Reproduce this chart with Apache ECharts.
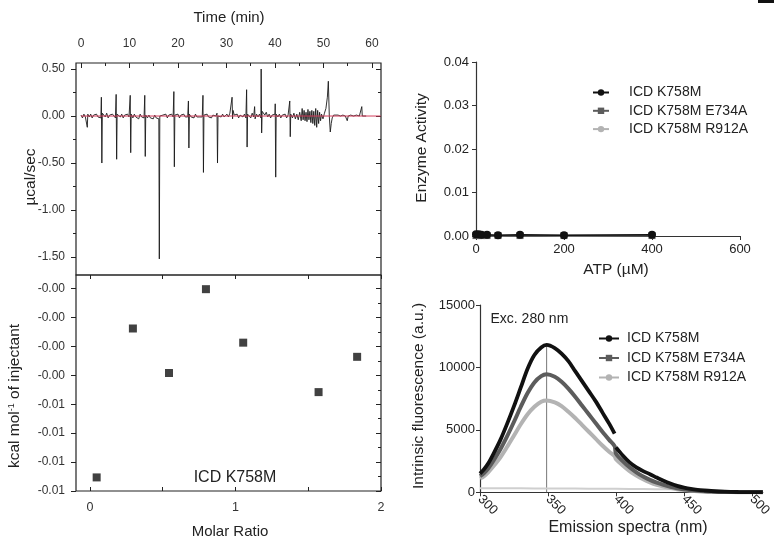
<!DOCTYPE html>
<html><head><meta charset="utf-8">
<script src="https://cdn.jsdelivr.net/npm/echarts@6/dist/echarts.min.js"></script>
<style>html,body{margin:0;padding:0;background:#fff}#c{width:774px;height:541px}</style>
</head><body><div id="c"></div>
<script>
// ================= DATA =================
// ITC raw thermogram: [time (min), power (ucal/sec)]
const itcTrace = [
[0,0.01],[0.3,-0.02],[0.6,0.02],[0.9,-0.01],[1.2,0.0],[1.3,-0.12],[1.4,0.02],[1.7,-0.01],[2.0,0.02],[2.3,-0.02],[2.6,0.01],[2.9,-0.01],[3.2,0.02],[3.5,-0.01],[3.8,0.01],[4.1,-0.02],
[4.2,0.20],[4.3,-0.50],[4.4,0.03],
[4.7,0.02],[5.0,-0.01],[5.3,0.03],[5.6,-0.02],[5.9,0.01],[6.2,-0.01],[6.5,0.02],[6.8,0.0],[7.1,-0.02],
[7.25,0.23],[7.35,-0.46],[7.45,0.02],
[7.8,0.01],[8.1,-0.01],[8.4,0.02],[8.7,-0.02],[9.0,0.01],[9.3,-0.01],[9.6,0.02],[9.9,-0.01],
[10.15,0.22],[10.25,-0.39],[10.35,0.02],
[10.7,-0.02],[11.0,0.02],[11.3,-0.01],[11.6,0.01],[11.9,-0.03],[12.2,0.02],[12.5,-0.01],[12.8,0.01],[13.0,-0.02],
[13.15,0.22],[13.25,-0.43],[13.35,0.01],
[13.7,-0.02],[14.0,0.01],[14.3,-0.02],[14.6,0.0],[14.9,-0.03],[15.2,0.01],[15.5,-0.02],[15.8,0.0],
[16.05,-0.03],[16.15,-1.52],[16.25,0.0],
[16.6,-0.02],[16.9,0.01],[17.2,-0.01],[17.5,0.02],[17.8,-0.02],[18.1,0.01],[18.4,-0.01],[18.7,0.02],[19.0,-0.01],
[19.15,0.26],[19.25,-0.54],[19.35,0.01],
[19.7,-0.01],[20.0,0.02],[20.3,-0.02],[20.6,0.01],[20.9,-0.01],[21.2,0.02],[21.5,-0.01],[21.8,0.01],[22.0,-0.01],
[22.15,0.16],[22.25,-0.34],[22.35,0.02],
[22.7,-0.01],[23.0,0.01],[23.3,-0.02],[23.6,0.02],[23.9,-0.01],[24.2,0.01],[24.5,-0.01],[24.8,0.01],[25.0,-0.01],
[25.15,0.22],[25.25,-0.60],[25.35,0.01],
[25.7,-0.01],[26.0,0.02],[26.3,-0.01],[26.6,0.01],[26.9,-0.02],[27.2,0.01],[27.5,-0.01],[27.8,0.0],
[28.05,0.03],[28.15,-0.50],[28.25,0.0],
[28.6,0.01],[28.9,-0.01],[29.2,0.02],[29.5,-0.01],[29.8,0.01],[30.1,0.02],[30.4,-0.01],[30.7,0.03],[31.0,0.01],
[31.15,0.20],[31.25,-0.03],[31.35,0.06],[31.6,0.01],
[31.9,-0.01],[32.2,0.02],[32.5,-0.02],[32.8,0.01],[33.1,0.03],[33.4,-0.01],[33.7,0.02],[34.0,-0.02],
[34.15,0.28],[34.25,-0.33],[34.35,0.02],
[34.7,0.01],[35.0,-0.02],[35.3,0.03],[35.6,-0.01],[35.8,0.10],[35.9,-0.03],[36.2,0.02],[36.5,-0.01],[36.8,0.02],[37.1,-0.02],
[37.15,0.50],[37.25,-0.18],[37.35,0.05],
[37.6,0.03],[37.9,0.01],[38.2,0.04],[38.5,-0.01],[38.8,0.02],[39.1,-0.02],[39.4,0.01],[39.7,-0.01],[40.0,0.02],
[40.05,0.13],[40.15,-0.65],[40.25,0.02],
[40.6,-0.01],[40.9,0.02],[41.2,-0.02],[41.5,0.01],[41.8,-0.01],[42.1,0.02],[42.4,-0.02],[42.7,0.01],[43.0,-0.01],
[43.05,0.16],[43.15,-0.22],[43.25,0.02],
[43.6,-0.02],[43.9,0.03],[44.2,-0.03],[44.5,0.02],[44.8,-0.04],[45.1,0.04],[45.4,-0.05],[45.6,0.08],[45.8,-0.04],[46.0,0.06],[46.2,-0.05],[46.4,0.04],[46.6,-0.06],[46.8,0.07],[47.0,-0.04],[47.2,0.05],[47.4,-0.07],[47.6,0.06],[47.8,-0.08],[48.0,0.05],[48.2,-0.10],[48.4,0.08],[48.6,-0.12],[48.8,0.06],[49.0,-0.08],[49.2,0.04],[49.4,-0.05],[49.6,0.02],[49.9,-0.03],[50.2,0.03],[50.5,0.08],[50.8,0.20],[51.0,0.37],[51.2,0.0],[51.4,-0.17],[51.6,-0.08],[51.8,-0.02],[52.1,0.01],[52.5,-0.01],[53.0,0.01],[53.5,0.0],[54.0,0.01],[54.5,0.0],[54.9,-0.05],[55.1,0.0],[55.6,0.01],[56.2,0.0],[56.8,0.01],[57.4,0.0],[57.9,0.10],[58.0,0.0],[58.4,0.01],[58.8,0.0]
];
const itcBaselineTime = [0, 61.8];
const itcBaselineValue = [0, 0];
const timeTicks = [0, 10, 20, 30, 40, 50, 60];
const timeMinorTicks = [5, 15, 25, 35, 45, 55];
const powerTicks = [-1.5, -1.0, -0.5, 0.0, 0.5];
const powerTickLabels = ["-1.50", "-1.00", "-0.50", "0.00", "0.50"];
const powerMinorTicks = [-1.25, -0.75, -0.25, 0.25];

// Integrated heats
const molarRatio = [0.046, 0.295, 0.543, 0.797, 1.053, 1.571, 1.836];
const injectantHeat = [-0.00753, -0.00238, -0.00392, -0.00102, -0.00287, -0.00458, -0.00336];
const molarTicks = [0, 1, 2];
const molarTickMarks = [0, 0.5, 1, 1.5, 2];
const heatTicks = [-0.001, -0.002, -0.003, -0.004, -0.005, -0.006, -0.007, -0.008];
const heatTickLabels = ["-0.00", "-0.00", "-0.00", "-0.00", "-0.01", "-0.01", "-0.01", "-0.01"];
const heatMinorTicks = [-0.0015, -0.0025, -0.0035, -0.0045, -0.0055, -0.0065, -0.0075];

// Enzyme activity
const seriesNames = ["ICD K758M", "ICD K758M E734A", "ICD K758M R912A"];
const atp = [0, 6.25, 12.5, 25, 50, 100, 200, 400];
const activityK758M = [0.0004, 0.0004, 0.0003, 0.0003, 0.0002, 0.0003, 0.0002, 0.0003];
const activityE734A = [0.0001, 0.0001, 0.0001, 0.0001, 0.0001, 0.0001, 0.0001, 0.0001];
const activityR912A = [0.0001, 0.0001, 0.0000, 0.0001, 0.0000, 0.0001, 0.0000, 0.0001];

// Intrinsic fluorescence
const wavelength = [300,303,306,310,315,320,325,330,335,340,345,349,355,360,365,370,375,380,385,390,395,399,399.5,400,405,410,415,420,425,430,435,440,445,450,455,460,465,470,480,490,500,508];
const fluorK758M = [1500,1850,2300,3100,4200,5500,6900,8400,9900,11000,11600,11800,11550,11100,10500,9700,8900,8100,7300,6400,5500,4700,null,3600,2950,2400,2000,1700,1450,1180,920,700,520,380,270,195,145,105,52,26,12,5];
const fluorE734A = [1300,1550,1900,2550,3450,4500,5650,6850,7950,8800,9300,9450,9250,8850,8300,7650,6950,6250,5550,4850,4200,3700,null,3100,2500,2000,1600,1260,990,770,590,440,320,235,165,118,83,58,27,13,6,3];
const fluorR912A = [1100,1300,1600,2100,2800,3650,4550,5450,6250,6850,7250,7350,7200,6900,6450,5950,5400,4850,4300,3750,3250,2900,null,2650,2150,1700,1350,1050,800,600,455,340,250,180,128,88,63,44,21,10,5,2];
const bufferWavelength = [300, 320, 340, 360, 380, 400, 420, 440];
const bufferFluor = [330, 320, 310, 300, 290, 280, 260, 240];
const peakLineWavelength = [349, 349];
const peakLineFluor = [0, 11800];
const wavelengthTicks = [300, 350, 400, 450, 500];

// ================= CHART =================
const FONT = '"Liberation Sans", Arial, Helvetica, sans-serif';
const zip = (a, b) => a.map((v, i) => [v, b[i]]);
const noSplit = {show: false};
const tickLine = {color: '#222', width: 1};

function lookupLabel(vals, labels) {
  return function (v) {
    const i = vals.findIndex(t => Math.abs(t - v) < 1e-9);
    return i >= 0 ? labels[i] : '';
  };
}

const ITC_L = 76, ITC_W = 305;
const grids = [
  {left: ITC_L, top: 63, width: ITC_W, height: 212, show: true, borderColor: '#222', borderWidth: 1.2, backgroundColor: 'transparent'},
  {left: ITC_L, top: 275, width: ITC_W, height: 216, show: true, borderColor: '#222', borderWidth: 1.2, backgroundColor: 'transparent'},
  {left: 476, top: 62, width: 264, height: 174},
  {left: 480, top: 305, width: 286.6, height: 187.3},
  {left: ITC_L, top: 63, width: ITC_W, height: 212},
  {left: ITC_L, top: 275, width: ITC_W, height: 216}
];

const tMin = -1.03, tMax = 61.86;
const pMin = -1.691, pMax = 0.564;
const mMin = -0.096, mMax = 2.0;
const hMin = -0.008, hMax = -0.00053;

const itcLabel = {fontSize: 12, color: '#333', fontFamily: FONT};
const hiddenLine = {show: false, onZero: false};

const xAxes = [
  {gridIndex: 0, type: 'value', position: 'top', min: tMin, max: tMax, axisLine: hiddenLine, splitLine: noSplit,
   axisTick: {show: true, inside: true, length: 5, customValues: timeTicks, lineStyle: tickLine},
   axisLabel: Object.assign({customValues: timeTicks, margin: 13}, itcLabel)},
  {gridIndex: 4, type: 'value', position: 'top', min: tMin, max: tMax, axisLine: hiddenLine, splitLine: noSplit,
   axisTick: {show: true, inside: true, length: 3, customValues: timeMinorTicks, lineStyle: tickLine},
   axisLabel: {show: false}},
  {gridIndex: 1, type: 'value', position: 'bottom', min: mMin, max: mMax, axisLine: hiddenLine, splitLine: noSplit,
   axisTick: {show: true, inside: true, length: 4, customValues: molarTickMarks, lineStyle: tickLine},
   axisLabel: Object.assign({customValues: molarTicks, margin: 10}, itcLabel, {fontSize: 12.5})},
  {gridIndex: 1, type: 'value', position: 'top', min: mMin, max: mMax, axisLine: hiddenLine, splitLine: noSplit,
   axisTick: {show: true, inside: true, length: 4, customValues: molarTickMarks, lineStyle: tickLine},
   axisLabel: {show: false}},
  {gridIndex: 5, type: 'value', show: false, min: mMin, max: mMax, splitLine: noSplit, axisLine: hiddenLine},
  {gridIndex: 2, type: 'value', min: 0, max: 600, interval: 200, splitLine: noSplit,
   axisLine: {show: true, onZero: false, lineStyle: {color: '#333', width: 1.2}},
   axisTick: {show: true, length: 4, lineStyle: {color: '#333'}},
   axisLabel: {margin: 7, fontSize: 13, color: '#222', fontFamily: FONT}},
  {gridIndex: 3, type: 'value', min: 300, max: 508, splitLine: noSplit,
   axisLine: {show: true, onZero: false, lineStyle: {color: '#333', width: 1.2}},
   axisTick: {show: true, length: 4, customValues: wavelengthTicks, lineStyle: {color: '#333'}},
   axisLabel: {customValues: wavelengthTicks, rotate: -45, margin: 5, fontSize: 13, color: '#222', fontFamily: FONT}}
];

const yAxes = [
  {gridIndex: 0, type: 'value', position: 'left', min: pMin, max: pMax, axisLine: hiddenLine, splitLine: noSplit,
   axisTick: {show: true, length: 5, customValues: powerTicks, lineStyle: tickLine},
   axisLabel: Object.assign({customValues: powerTicks, margin: 11, formatter: lookupLabel(powerTicks, powerTickLabels)}, itcLabel)},
  {gridIndex: 0, type: 'value', position: 'right', min: pMin, max: pMax, axisLine: hiddenLine, splitLine: noSplit,
   axisTick: {show: true, inside: true, length: 5, customValues: powerTicks, lineStyle: tickLine}, axisLabel: {show: false}},
  {gridIndex: 4, type: 'value', position: 'left', min: pMin, max: pMax, axisLine: hiddenLine, splitLine: noSplit,
   axisTick: {show: true, length: 3, customValues: powerMinorTicks, lineStyle: tickLine}, axisLabel: {show: false}},
  {gridIndex: 4, type: 'value', position: 'right', min: pMin, max: pMax, axisLine: hiddenLine, splitLine: noSplit,
   axisTick: {show: true, inside: true, length: 3, customValues: powerMinorTicks, lineStyle: tickLine}, axisLabel: {show: false}},
  {gridIndex: 1, type: 'value', position: 'left', min: hMin, max: hMax, axisLine: hiddenLine, splitLine: noSplit,
   axisTick: {show: true, length: 5, customValues: heatTicks, lineStyle: tickLine},
   axisLabel: Object.assign({customValues: heatTicks, margin: 11, formatter: lookupLabel(heatTicks, heatTickLabels)}, itcLabel)},
  {gridIndex: 1, type: 'value', position: 'right', min: hMin, max: hMax, axisLine: hiddenLine, splitLine: noSplit,
   axisTick: {show: true, inside: true, length: 5, customValues: heatTicks, lineStyle: tickLine}, axisLabel: {show: false}},
  {gridIndex: 5, type: 'value', position: 'right', min: hMin, max: hMax, axisLine: hiddenLine, splitLine: noSplit,
   axisTick: {show: true, inside: true, length: 3, customValues: heatMinorTicks, lineStyle: tickLine}, axisLabel: {show: false}},
  {gridIndex: 2, type: 'value', min: 0, max: 0.04, interval: 0.01, splitLine: noSplit,
   axisLine: {show: true, onZero: false, lineStyle: {color: '#333', width: 1.2}},
   axisTick: {show: true, length: 4, lineStyle: {color: '#333'}},
   axisLabel: {margin: 7, fontSize: 13, color: '#222', fontFamily: FONT, formatter: v => v.toFixed(2)}},
  {gridIndex: 3, type: 'value', min: 0, max: 15000, interval: 5000, splitLine: noSplit,
   axisLine: {show: true, onZero: false, lineStyle: {color: '#333', width: 1.2}},
   axisTick: {show: true, length: 4, lineStyle: {color: '#333'}},
   axisLabel: {margin: 5, fontSize: 13, color: '#222', fontFamily: FONT, formatter: v => String(v)}}
];

const C_BLACK = '#111111', C_DARK = '#5c5c5c', C_LIGHT = '#b3b3b3';

const series = [
  {type: 'line', xAxisIndex: 0, yAxisIndex: 0, data: itcTrace, symbol: 'none', lineStyle: {color: '#1a1a1a', width: 0.9}, z: 3, silent: true},
  {type: 'line', xAxisIndex: 0, yAxisIndex: 0, data: zip(itcBaselineTime, itcBaselineValue), symbol: 'none', lineStyle: {color: '#d43c5c', width: 1}, z: 4, silent: true},
  {type: 'scatter', xAxisIndex: 2, yAxisIndex: 4, data: zip(molarRatio, injectantHeat), symbol: 'rect', symbolSize: 8, itemStyle: {color: C_BLACK}},
  // enzyme activity (light first so black drawn on top)
  {name: seriesNames[2], type: 'line', xAxisIndex: 5, yAxisIndex: 7, data: zip(atp, activityR912A), symbol: 'circle', symbolSize: 6, itemStyle: {color: C_LIGHT}, lineStyle: {color: C_LIGHT, width: 1.5}},
  {name: seriesNames[1], type: 'line', xAxisIndex: 5, yAxisIndex: 7, data: zip(atp, activityE734A), symbol: 'rect', symbolSize: 7, itemStyle: {color: C_DARK}, lineStyle: {color: C_DARK, width: 1.5}},
  {name: seriesNames[0], type: 'line', xAxisIndex: 5, yAxisIndex: 7, data: zip(atp, activityK758M), symbol: 'circle', symbolSize: 8, itemStyle: {color: C_BLACK}, lineStyle: {color: C_BLACK, width: 1.5}},
  // fluorescence
  {type: 'line', xAxisIndex: 6, yAxisIndex: 8, data: zip(bufferWavelength, bufferFluor), symbol: 'none', smooth: 0.3, lineStyle: {color: '#cfcfcf', width: 2}},
  {type: 'line', xAxisIndex: 6, yAxisIndex: 8, data: zip(peakLineWavelength, peakLineFluor), symbol: 'none', lineStyle: {color: '#777', width: 1}, z: 1},
  {name: seriesNames[2], type: 'line', xAxisIndex: 6, yAxisIndex: 8, data: zip(wavelength, fluorR912A), symbol: 'circle', showSymbol: false, smooth: 0.3, connectNulls: true, itemStyle: {color: C_LIGHT}, lineStyle: {color: C_LIGHT, width: 4}},
  {name: seriesNames[1], type: 'line', xAxisIndex: 6, yAxisIndex: 8, data: zip(wavelength, fluorE734A), symbol: 'rect', showSymbol: false, smooth: 0.3, connectNulls: true, itemStyle: {color: C_DARK}, lineStyle: {color: C_DARK, width: 4}},
  {name: seriesNames[0], type: 'line', xAxisIndex: 6, yAxisIndex: 8, data: zip(wavelength, fluorK758M), symbol: 'circle', showSymbol: false, smooth: 0.3, connectNulls: false, itemStyle: {color: C_BLACK}, lineStyle: {color: C_BLACK, width: 3.8}, z: 3}
];

function txt(x, y, text, size, rot, extra) {
  return {
    type: 'text', x: x, y: y, rotation: rot || 0, z: 10,
    style: Object.assign({
      text: text, fill: '#222', font: size + 'px ' + FONT,
      textAlign: 'center', textVerticalAlign: 'middle', align: 'center', verticalAlign: 'middle'
    }, extra || {})
  };
}

const graphic = [
  txt(229, 17.5, 'Time (min)', 15),
  txt(31, 177, 'µcal/sec', 15.5, Math.PI / 2),
  txt(15, 396, 'kcal mol{sup|-1} of injectant', 15.5, Math.PI / 2, {rich: {sup: {fontSize: 9, verticalAlign: 'top', fill: '#222', fontFamily: FONT}}}),
  txt(230, 531.5, 'Molar Ratio', 15),
  txt(235, 477.5, 'ICD K758M', 16),
  txt(421.5, 148, 'Enzyme Activity', 15.5, Math.PI / 2),
  txt(616, 269.5, 'ATP (µM)', 15.5),
  txt(419, 396, 'Intrinsic fluorescence (a.u.)', 15.5, Math.PI / 2),
  txt(628, 527.5, 'Emission spectra (nm)', 16),
  txt(490.5, 319, 'Exc. 280 nm', 14, 0, {textAlign: 'left', align: 'left'}),
  {type: 'rect', shape: {x: 758, y: 0, width: 16, height: 3}, style: {fill: '#111'}}
];

const legendText = {fontSize: 14, color: '#222', fontFamily: FONT, lineHeight: 16};
const option = {
  animation: false,
  backgroundColor: '#fff',
  grid: grids,
  xAxis: xAxes,
  yAxis: yAxes,
  legend: [
    {data: seriesNames, orient: 'vertical', left: 592, top: 84.5, padding: 0, itemWidth: 16, itemHeight: 8, itemGap: 2.3,
     selectedMode: false, textStyle: Object.assign({padding: [0, 0, 0, 15]}, legendText)},
    {data: seriesNames, orient: 'vertical', left: 598, top: 330.5, padding: 0, itemWidth: 20, itemHeight: 8, itemGap: 3.5,
     selectedMode: false, textStyle: Object.assign({padding: [0, 0, 0, 3]}, legendText)}
  ],
  series: series,
  graphic: graphic
};

const chart = echarts.init(document.getElementById('c'), null, {renderer: 'canvas'});
chart.setOption(option);
</script>
</body></html>
